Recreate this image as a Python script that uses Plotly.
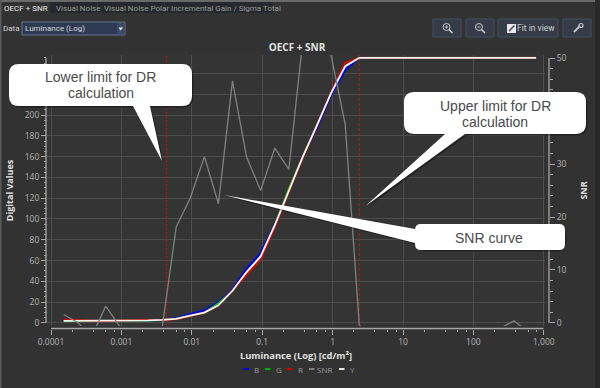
import plotly.graph_objects as go

W, H = 600, 388

# ---- data ----
luminance = [0.000151, 0.000239, 0.000378, 0.0006, 0.000951, 0.00151, 0.00239, 0.00378, 0.006, 0.00951,
             0.0151, 0.0239, 0.0378, 0.06, 0.0951, 0.151, 0.239, 0.378, 0.6, 0.951,
             1.51, 2.39, 3.78, 6.0, 9.51, 15.1, 23.9, 37.8, 60.0, 95.1, 151, 239, 378, 600, 778]
dv_y = [2, 2, 2, 2, 2.5, 2.5, 2.5, 3, 4, 7, 10, 17, 31, 49, 64, 94, 128, 160, 190, 221, 247,
        255, 255, 255, 255, 255, 255, 255, 255, 255, 255, 255, 255, 255, 255]
dv_b = [2, 2, 2, 2, 2.5, 2.5, 2.5, 3, 4.5, 8.5, 12, 20, 32, 52, 67, 95, 128, 160, 188, 219, 243,
        255, 255, 255, 255, 255, 255, 255, 255, 255, 255, 255, 255, 255, 255]
dv_g = [2, 2, 2, 2, 2.5, 2.5, 2.5, 3, 4, 7, 10, 19, 31, 49, 64, 94, 129, 160, 190, 221, 247,
        255, 255, 255, 255, 255, 255, 255, 255, 255, 255, 255, 255, 255, 255]
dv_r = [3, 2.5, 2, 2, 2.5, 2.5, 2.5, 3, 3.5, 6.5, 10, 17, 31, 46, 61, 92, 126, 159, 190, 222, 250,
        255, 255, 255, 255, 255, 255, 255, 255, 255, 255, 255, 255, 255, 255]
snr = [1.6, 0.1, -2.6, 3.2, -0.7, -1, -1, -1, 18.1, 23.6, 31.4, 22.5, 45.7, 31.3, 25, 33, 29, 53.4, 58, 50.5,
       37.5, -0.3, -4, -4, -4, -4, -4, -4, -4, -4, -4, -1, 0.4, -1.7, -1]
dr_lower = 0.0044
dr_upper = 2.39
x_ticks = [0.0001, 0.001, 0.01, 0.1, 1, 10, 100, 1000]
x_labels = ["0.0001", "0.001", "0.01", "0.1", "1", "10", "100", "1,000"]
x_minor = [m * d for d in [0.0001, 0.001, 0.01, 0.1, 1, 10, 100] for m in (2, 4, 6, 8)]
dv_ticks = list(range(0, 241, 20))
dv_minor = list(range(0, 256, 5)) + [255]
snr_ticks = [0, 10, 20, 30, 40, 50]
snr_minor = list(range(0, 51, 2))
legend_items = [("B", "#0000e0", 243.5, 254), ("G", "#00b000", 265, 276), ("R", "#d00000", 287, 298),
                ("SNR", "#808080", 309, 317), ("Y", "#e8e8e8", 339, 350)]

BG = "#323232"
PLOT = "#343434"
GRID = "#4d4d4d"
AXIS = "#a8a8a8"
TXT = "#b4b4b4"
FONT = "Open Sans"


def px(x):
    return x / W


def py(y):
    return (H - y) / H


def pt(x, y):
    return f"{px(x):.5f},{py(y):.5f}"


def rect(x0, y0, x1, y1, fill, line=None, layer="below", lw=1):
    return dict(type="rect", xref="paper", yref="paper", x0=px(x0), x1=px(x1), y0=py(y0), y1=py(y1),
                fillcolor=fill, line=dict(color=line or fill, width=lw if line else 0), layer=layer)


def seg(x0, y0, x1, y1, color, lw=1, layer="above"):
    return dict(type="line", xref="paper", yref="paper", x0=px(x0), x1=px(x1), y0=py(y0), y1=py(y1),
                line=dict(color=color, width=lw), layer=layer)


def circ(cx, cy, r, color, lw=1, fill="rgba(0,0,0,0)"):
    return dict(type="circle", xref="paper", yref="paper", x0=px(cx - r), x1=px(cx + r), y0=py(cy + r), y1=py(cy - r),
                line=dict(color=color, width=lw), fillcolor=fill, layer="above")


def label(x, y, text, size=8, color=TXT, anchor="left", font=FONT, angle=0):
    return dict(xref="paper", yref="paper", x=px(x), y=py(y), text=text, showarrow=False, xanchor=anchor,
                yanchor="middle", textangle=angle, font=dict(size=size, color=color, family=font), borderpad=0,
                borderwidth=0)


def callout(x0, y0, x1, y1, tail, off=0.0, r=11, fill="#ffffff"):
    """Rounded box with a pointed tail on its bottom or left edge."""
    o = off
    p = [f"M{pt(x0 + r + o, y0 + o)}", f"L{pt(x1 - r + o, y0 + o)}",
         f"Q{pt(x1 + o, y0 + o)} {pt(x1 + o, y0 + r + o)}", f"L{pt(x1 + o, y1 - r + o)}",
         f"Q{pt(x1 + o, y1 + o)} {pt(x1 - r + o, y1 + o)}"]
    if tail[0] == "bottom":
        a, tip, b = tail[1:]
        p += [f"L{pt(b + o, y1 + o)}", f"L{pt(tip[0] + o, tip[1] + o)}", f"L{pt(a + o, y1 + o)}"]
    p += [f"L{pt(x0 + r + o, y1 + o)}", f"Q{pt(x0 + o, y1 + o)} {pt(x0 + o, y1 - r + o)}"]
    if tail[0] == "left":
        a, tip, b = tail[1:]
        p += [f"L{pt(x0 + o, b + o)}", f"L{pt(tip[0] + o, tip[1] + o)}", f"L{pt(x0 + o, a + o)}"]
    p += [f"L{pt(x0 + o, y0 + r + o)}", f"Q{pt(x0 + o, y0 + o)} {pt(x0 + r + o, y0 + o)}", "Z"]
    return dict(type="path", xref="paper", yref="paper", path=" ".join(p), fillcolor=fill,
                line=dict(width=0), layer="above")


fig = go.Figure()
hid = dict(hoverinfo="skip", showlegend=False)
fig.add_trace(go.Scatter(x=luminance, y=dv_b, name="B", mode="lines", line=dict(color="#0000ff", width=2), yaxis="y"))
fig.add_trace(go.Scatter(x=luminance, y=dv_g, name="G", mode="lines", line=dict(color="#00c000", width=2), yaxis="y"))
fig.add_trace(go.Scatter(x=luminance, y=dv_r, name="R", mode="lines", line=dict(color="#e00000", width=2), yaxis="y"))
fig.add_trace(go.Scatter(x=[dr_lower, dr_lower], y=[-3, 258], name="DR lower", mode="lines",
                         line=dict(color="#c01020", width=1, dash="2px,2px"), yaxis="y", **hid))
fig.add_trace(go.Scatter(x=[dr_upper, dr_upper], y=[-3, 258], name="DR upper", mode="lines",
                         line=dict(color="#a82028", width=1, dash="3px,2px"), yaxis="y", **hid))
fig.add_trace(go.Scatter(x=luminance, y=snr, name="SNR", mode="lines", line=dict(color="#808080", width=1.3), yaxis="y2"))
fig.add_trace(go.Scatter(x=luminance, y=dv_y, name="Y", mode="lines", line=dict(color="#f4f4f4", width=1.8), yaxis="y"))

# put the SNR trace on its own overlay but keep ordering simple
shapes = []
annots = []

# window chrome
shapes += [rect(0, 0, 600, 2, "#6a6a6a"), rect(0, 0, 1.5, 388, "#5a5a5a"), rect(595, 0, 600, 388, "#2a2a2a")]
for x0, x1 in [(50, 97), (98, 164), (165, 273)]:
    shapes.append(rect(x0, 2, x1, 13, "#25282c"))
TAB = "Roboto"
for x, t, c in [(4, "OECF + SNR", "#e6e6e6"), (56, "Visual Noise", "#9a9a9a"), (104, "Visual Noise Polar", "#9a9a9a"),
                (171, "Incremental Gain / Sigma Total", "#9a9a9a")]:
    annots.append(label(x, 8, t, 8, c, font=TAB))

# data selector
annots.append(label(3, 29, "Data", 8, "#d0d0d0", font=TAB))
shapes.append(rect(22, 22, 125, 35, "#2e3a52", "#66758c", layer="above"))
annots.append(label(25, 29, "Luminance (Log)", 8, "#d8d8d8", font=TAB))
shapes.append(rect(117, 23, 124.5, 34.5, "#3b4a68", layer="above"))
shapes.append(dict(type="path", xref="paper", yref="paper", path=f"M{pt(118.5, 27.5)} L{pt(123, 27.5)} L{pt(120.7, 30.5)} Z",
                   fillcolor="#e8e8e8", line=dict(width=0), layer="above"))

# buttons
for x0, x1 in [(433, 461), (466, 494), (498, 558), (563, 591)]:
    shapes.append(rect(x0, 19, x1, 37, "#353c48", "#454d5a", layer="above"))
shapes += [circ(446.5, 27, 3.5, "#c4c8cc"), seg(449, 29.5, 452.5, 33, "#d0d0d0", 1.5),
           seg(445, 27, 448, 27, "#c4c8cc"), seg(446.5, 25.5, 446.5, 28.5, "#c4c8cc"),
           circ(479, 27, 3.5, "#c4c8cc"), seg(481.5, 29.5, 485, 33, "#d0d0d0", 1.5), seg(477.5, 27, 480.5, 27, "#c4c8cc"),
           rect(507, 24, 516, 33, "#e8e8e8", layer="above"), seg(509, 31, 514.5, 25.5, "#40485a", 1.5),
           seg(574, 32, 580, 26, "#c0c4c8", 2), circ(581, 25.5, 2, "#c0c4c8", 1.2)]
annots.append(label(517, 28.5, "Fit in view", 8.5, "#c8ccd0", font=TAB))

# axis lines that stop at the end of the scale
shapes += [seg(51, 328.5, 543.5, 328.5, AXIS, 1.3), seg(46, 58, 46, 323, AXIS, 1.3), seg(549, 58, 549, 323, AXIS, 1.3)]

# legend row
for name, col, lx, tx in legend_items:
    shapes.append(seg(lx, 369, lx + 5.5, 369, col, 2))
    annots.append(label(tx, 369, name, 8, "#9a9a9a"))

# callouts (soft shadow then white body)
boxes = [
    (9, 64, 192, 106, ("bottom", 133, (162, 161), 150)),
    (404, 92, 586, 134, ("bottom", 445, (365.5, 206), 465)),
    (415, 224, 565, 250, ("left", 229, (224, 195), 243)),
]
for x0, y0, x1, y1, tail in boxes:
    shapes.append(callout(x0, y0, x1, y1, tail, off=1.5, fill="rgba(0,0,0,0.35)"))
    shapes.append(callout(x0, y0, x1, y1, tail, r=10 if y1 - y0 > 30 else 6))
CALL = "Liberation Sans"
annots += [label(100.5, 77, "Lower limit for DR", 14, "#4a4a4a", "center", CALL),
           label(100.5, 93, "calculation", 14, "#4a4a4a", "center", CALL),
           label(495, 105.5, "Upper limit for DR", 14, "#4a4a4a", "center", CALL),
           label(495, 121.5, "calculation", 14, "#4a4a4a", "center", CALL),
           label(489, 238, "SNR curve", 14, "#4a4a4a", "center", CALL)]

tickfont = dict(size=8.5, color=TXT, family=FONT)
fig.update_layout(
    width=W, height=H, margin=dict(l=0, r=0, t=0, b=0, autoexpand=False), paper_bgcolor=BG, plot_bgcolor=PLOT,
    showlegend=False, shapes=shapes, annotations=annots,
    title=dict(text="<b>OECF + SNR</b>", x=px(297), y=py(47), xanchor="center", yanchor="middle", xref="paper", yref="paper",
               font=dict(size=10, color="#e0e0e0", family=FONT)),
    xaxis=dict(type="log", domain=[px(47), px(545)], range=[-4.057, 3.017], anchor="free", position=py(328.5),
               tickmode="array", tickvals=x_ticks, ticktext=x_labels, ticks="outside", ticklen=5, tickwidth=1,
               tickcolor=AXIS, tickfont=tickfont, showgrid=True, gridcolor=GRID, gridwidth=1, zeroline=False,
               showline=False, automargin=False,
               minor=dict(tickmode="array", tickvals=x_minor, ticks="outside", ticklen=2.5, tickwidth=1, tickcolor=AXIS, showgrid=False),
               title=dict(text="<b>Luminance (Log) [cd/m²]</b>", standoff=6, font=dict(size=9.3, color="#e0e0e0", family=FONT))),
    yaxis=dict(domain=[py(326), py(55)], range=[-2.9, 257.7], anchor="free", position=px(46), side="left",
               tickmode="array", tickvals=dv_ticks, ticks="outside", ticklen=5, tickwidth=1, tickcolor=AXIS,
               tickfont=tickfont, showgrid=True, gridcolor=GRID, gridwidth=1, zeroline=False, showline=False, automargin=False,
               minor=dict(tickmode="array", tickvals=dv_minor, ticks="outside", ticklen=2.5, tickwidth=1, tickcolor=AXIS, showgrid=False),
               title=dict(text="<b>Digital Values</b>", standoff=8, font=dict(size=9, color="#e0e0e0", family=FONT))),
    yaxis2=dict(overlaying="y", range=[-0.57, 50.57], anchor="free", position=px(549), side="right",
                tickmode="array", tickvals=snr_ticks, ticks="outside", ticklen=5, tickwidth=1, tickcolor=AXIS,
                tickfont=tickfont, showgrid=False, zeroline=False, showline=False, automargin=False,
                minor=dict(tickmode="array", tickvals=snr_minor, ticks="outside", ticklen=2.5, tickwidth=1, tickcolor=AXIS, showgrid=False),
                title=dict(text="<b>SNR</b>", standoff=15, font=dict(size=9, color="#e0e0e0", family=FONT))),
)
fig.write_html("out.html", config=dict(displayModeBar=False),
               post_script="document.body.style.margin='0';document.body.style.overflow='hidden';")
